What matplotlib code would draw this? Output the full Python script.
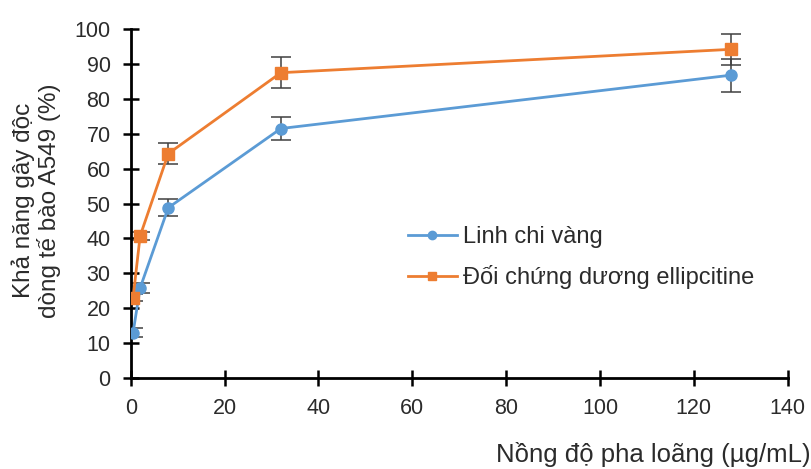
import numpy as np
import matplotlib.pyplot as plt

plt.rcParams['font.family'] = ['Liberation Sans', 'DejaVu Sans']

# nong do pha loang (ug/mL)
conc = [0.5, 2, 8, 32, 128]

# Linh chi vang
linh_chi = [13, 25.8, 48.8, 71.5, 86.8]
linh_chi_err = [1.2, 1.5, 2.4, 3.3, 4.7]

# doi chung duong ellipcitine
ellip = [23, 40.7, 64.3, 87.5, 94.2]
ellip_err = [1.0, 1.2, 3.0, 4.4, 4.5]

xticks = [0, 20, 40, 60, 80, 100, 120, 140]
yticks = [0, 10, 20, 30, 40, 50, 60, 70, 80, 90, 100]

txt = '#2b2b2b'

fig = plt.figure(figsize=(8.12, 4.69), dpi=100)
ax = fig.add_axes([0.161, 0.194, 0.809, 0.744])

# error bars first, lines and markers on top
ax.errorbar(conc, linh_chi, yerr=linh_chi_err, fmt='none', ecolor='#404040',
            elinewidth=1.1, capsize=7, capthick=1.1, zorder=2)
ax.errorbar(conc, ellip, yerr=ellip_err, fmt='none', ecolor='#404040',
            elinewidth=1.1, capsize=7, capthick=1.1, zorder=2)
ax.plot(conc, linh_chi, color='#5B9BD5', marker='o', markersize=8,
        linewidth=2, label='Linh chi vàng', zorder=3)
ax.plot(conc, ellip, color='#ED7D31', marker='s', markersize=8,
        linewidth=2, label='Đối chứng dương ellipcitine', zorder=3)

ax.set_xlim(0, 140)
ax.set_ylim(0, 100)
ax.set_xticks(xticks)
ax.set_yticks(yticks)
ax.tick_params(direction='inout', length=11, width=1.8, labelsize=15.5,
               color='black', labelcolor=txt, pad=9)
for s in ['top', 'right']:
    ax.spines[s].set_visible(False)
for s in ['left', 'bottom']:
    ax.spines[s].set_linewidth(2)
    ax.spines[s].set_clip_on(False)

fig.text(36 / 812, 0.572, 'Khả năng gây độc\ndòng tế bào A549 (%)',
         fontsize=17.5, color=txt, rotation=90, ha='center', va='center',
         linespacing=1.08)
fig.text(0.998, 0.015, 'Nồng độ pha loãng (µg/mL)', fontsize=18.5,
         color=txt, ha='right', va='baseline')

leg = ax.legend(loc='center left', bbox_to_anchor=(0.4216, 0.345),
                frameon=False, fontsize=17, handlelength=2.1,
                labelspacing=0.74, handletextpad=0.25, borderpad=0,
                borderaxespad=0)
for t in leg.get_texts():
    t.set_color(txt)
for h in leg.legend_handles:
    h.set_markersize(6)

fig.savefig('out.png', dpi=100)
